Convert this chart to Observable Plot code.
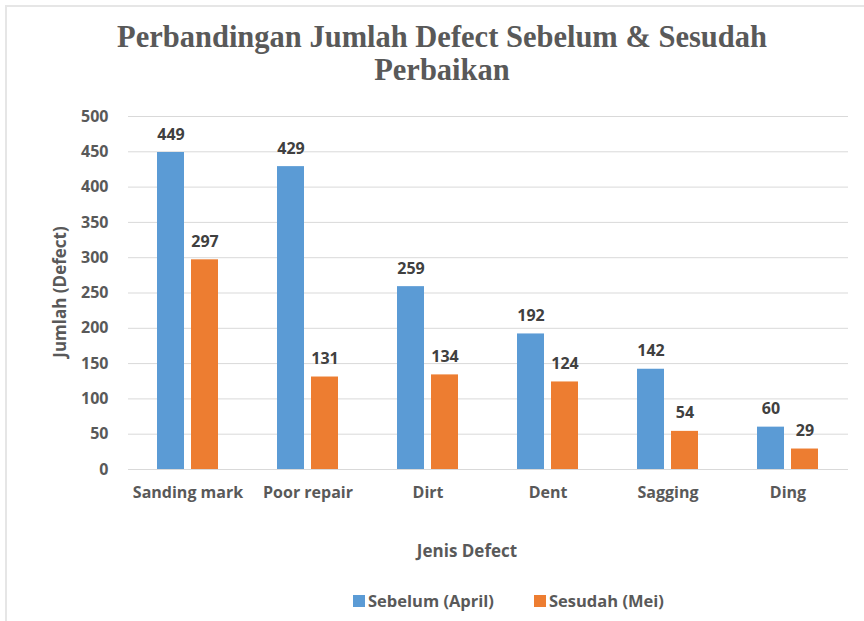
<!DOCTYPE html>
<html><head><meta charset="utf-8">
<script src="https://cdn.jsdelivr.net/npm/d3@7"></script>
<script src="https://cdn.jsdelivr.net/npm/@observablehq/plot@0.6"></script>
<style>
body{margin:0;background:#fff;}
#wrap{position:relative;width:864px;height:621px;overflow:hidden;font-family:"Open Sans", sans-serif;}
#frame{position:absolute;left:5px;top:5px;width:900px;height:700px;border-left:2px solid #e6e6e6;border-top:2px solid #e6e6e6;}
#chart{position:absolute;left:0;top:0;}
#title{position:absolute;left:0;top:21px;width:884px;text-align:center;font-family:"Liberation Serif",serif;font-weight:bold;font-size:30.5px;color:#595959;line-height:33px;}
#xlab{position:absolute;left:367px;top:539px;width:200px;text-align:center;font-weight:bold;font-size:17px;line-height:24px;color:#595959;}
#ylab{position:absolute;left:-40px;top:280px;width:200px;text-align:center;font-weight:bold;font-size:17px;line-height:24px;color:#595959;transform:rotate(-90deg);}
#legend{position:absolute;left:353px;top:589px;font-weight:bold;font-size:16.5px;line-height:24px;color:#595959;display:flex;align-items:center;}
.sw{display:inline-block;width:12px;height:12px;margin-right:3px;}
.item{display:flex;align-items:center;margin-right:40px;}
</style></head>
<body>
<div id="wrap">
<div id="frame"></div>
<div id="chart"></div>
<div id="title">Perbandingan Jumlah Defect Sebelum &amp; Sesudah<br>Perbaikan</div>
<div id="xlab">Jenis Defect</div>
<div id="ylab">Jumlah (Defect)</div>
<div id="legend"></div>
</div>
<script>
const categories = ["Sanding mark","Poor repair","Dirt","Dent","Sagging","Ding"];
const sebelum = [449,429,259,192,142,60];
const sesudah = [297,131,134,124,54,29];
const seriesNames = ["Sebelum (April)","Sesudah (Mei)"];
const seriesColors = ["#5b9bd5","#ed7d31"];
const yTicks = [0,50,100,150,200,250,300,350,400,450,500];

const rows = categories.map((c,i)=>({category:c, sebelum:sebelum[i], sesudah:sesudah[i]}));

const chart = Plot.plot({
  width:864, height:621,
  marginLeft:128, marginRight:16, marginTop:116, marginBottom:152,
  style:{background:"transparent", fontFamily:"'Open Sans', sans-serif"},
  x:{domain:categories, paddingInner:0.49, paddingOuter:0.245, label:null},
  y:{domain:[0,500], label:null},
  marks:[
    Plot.gridY(yTicks,{stroke:"#d9d9d9", strokeOpacity:1, strokeWidth:1}),
    Plot.axisY(yTicks,{tickSize:0, tickPadding:20, label:null, fontSize:16, fontWeight:"bold", fill:"#595959"}),
    Plot.axisX({tickSize:0, tickPadding:17, label:null, fontSize:16, fontWeight:"bold", fill:"#595959"}),
    Plot.barY(rows,{x:"category", y:"sebelum", fill:seriesColors[0], insetRight:34}),
    Plot.barY(rows,{x:"category", y:"sesudah", fill:seriesColors[1], insetLeft:34}),
    Plot.text(rows,{x:"category", y:"sebelum", text:"sebelum", dx:-17, dy:-13, lineAnchor:"bottom", fontSize:16, fontWeight:"bold", fill:"#404040"}),
    Plot.text(rows,{x:"category", y:"sesudah", text:"sesudah", dx:17, dy:-13, lineAnchor:"bottom", fontSize:16, fontWeight:"bold", fill:"#404040"})
  ]
});
document.getElementById("chart").appendChild(chart);

const leg = document.getElementById("legend");
seriesNames.forEach((n,i)=>{
  const it = document.createElement("div");
  it.className="item";
  const sw = document.createElement("span");
  sw.className="sw"; sw.style.background=seriesColors[i];
  it.appendChild(sw);
  it.appendChild(document.createTextNode(n));
  leg.appendChild(it);
});
</script>
</body></html>
